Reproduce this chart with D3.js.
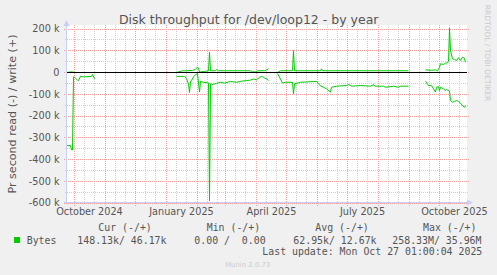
<!DOCTYPE html>
<html><head><meta charset="utf-8">
<script src="https://cdn.jsdelivr.net/npm/d3@7"></script>
<style>html,body{margin:0;padding:0;background:#f0f0f0;}svg{display:block}</style>
</head><body>
<svg id="chart" width="497" height="275"></svg>
<script>
// ---- data ----
const titleText = "Disk throughput for /dev/loop12 - by year";
const yAxisLabel = "Pr second read (-) / write (+)";
const yTickValues = [200, 100, 0, -100, -200, -300, -400, -500, -600]; // k
const yTickLabels = ["200 k", "100 k", "0", "-100 k", "-200 k", "-300 k", "-400 k", "-500 k", "-600 k"];
const xLabelMonths = ["2024-10-01", "2025-01-01", "2025-04-01", "2025-07-01", "2025-10-01"];
const xLabels = ["October 2024", "January 2025", "April 2025", "July 2025", "October 2025"];
// days since 2024-10-01 ; values in k bytes/s (read shown negative), null = gap
const readDays = [-8,-4,-3,-2,-1,0,1,3,4,6,9,17,18,20,21,
  102,110,112,114,115,116,117,119,121,123,125,126,129,134,135,136,138,142,146,150,156,162,167,172,176,179,182,185,188,190,192,194,195,
  203,206,208,211,218,219,220,226,242,246,249,252,256,257,262,272,274,277,286,296,299,301,309,311,319,324,326,334,335,
  351,354,357,359,361,362,364,365,366,369,371,372,375,376,378,380,382,384,386,388,390,391];
const readValues = [-336,-336,-356,-356,-20,-22,-26,-35,-37,-18,-20,-18,-9,-29,null,
  -18,-18,-29,-52,-92,-40,-38,-20,-10,-5,-90,-41,-45,-48,-590,-52,-55,-50,-45,-49,-41,-45,-40,-37,-35,-30,-34,-22,-18,-25,-29,-37,null,
  -5,-30,-49,-45,-45,-98,-52,-45,-41,-62,-68,-75,-90,-68,-63,-60,-55,-63,-60,-63,-56,-63,-63,-68,-63,-68,-63,-63,null,
  -40,-60,-60,-75,-90,-68,-65,-83,-68,-75,-83,-78,-86,-129,-137,-133,-129,-133,-141,-152,-160,-152];
const writeDays = [-8,-3,-2,-1,20,21,
  102,108,112,118,121,123,124,125,130,134,135,136,141,142,144,170,176,178,181,183,190,192,194,195,
  203,206,218,219,220,246,247,248,334,335,
  351,357,361,363,365,366,369,371,373,374,375,376,378,380,382,384,386,388,389,390,391];
const writeValues = [0,3,3,0,0,null,
  0,8,8,9,15,25,20,2,5,8,93,8,8,14,8,8,8,3,3,8,8,12,17,null,
  0,8,8,101,8,8,17,8,8,null,
  12,10,12,8,24,40,37,43,45,50,205,100,63,60,55,68,55,70,70,62,47];
const seriesName = "Bytes";
const legendHeaders = ["Cur (-/+)", "Min (-/+)", "Avg (-/+)", "Max (-/+)"];
const legendValues = ["148.13k/ 46.17k", "0.00 /  0.00", "62.95k/ 12.67k", "258.33M/ 35.96M"];
const lastUpdate = "Last update: Mon Oct 27 01:00:04 2025";
const sideText = "RRDTOOL / TOBI OETIKER";
const footer = "Munin 2.0.73";

// ---- drawing ----
const svg = d3.select("#chart");
const green = "#00cc00";
const base = Date.UTC(2024, 9, 1);
const dayDate = d => new Date(base + d * 86400000);
const x = d3.scaleUtc().domain([new Date(Date.UTC(2024, 8, 23, 12)), new Date(Date.UTC(2025, 9, 28, 12))]).range([67, 467]);
const y = d3.scaleLinear().domain([-600, 200]).range([203, 29]);
const snap = v => Math.round(v - 0.5) + 0.5;

svg.append("rect").attr("width", 497).attr("height", 275).attr("fill", "#f0f0f0");
svg.append("rect").attr("x", 67).attr("y", 25).attr("width", 400).attr("height", 178).attr("fill", "#ffffff");

const grid = svg.append("g");
// minor vertical: 11th and 21st of each month
const months = d3.utcMonth.range(new Date(Date.UTC(2024, 8, 1)), new Date(Date.UTC(2025, 10, 1)));
const minorV = [];
months.forEach(m => { [10, 20].forEach(o => { const t = d3.utcDay.offset(m, o); if (x(t) > 67 && x(t) < 467) minorV.push(t); }); });
grid.selectAll(".mv").data(minorV).join("line")
  .attr("x1", d => snap(x(d))).attr("x2", d => snap(x(d))).attr("y1", 25).attr("y2", 205)
  .attr("stroke", "#cfcfcf").attr("stroke-dasharray", "1,1");
// minor horizontal every 50k
const minorH = d3.range(-550, 200, 100);
grid.selectAll(".mh").data(minorH).join("line")
  .attr("x1", 65).attr("x2", 469).attr("y1", d => snap(y(d))).attr("y2", d => snap(y(d)))
  .attr("stroke", "#cfcfcf").attr("stroke-dasharray", "1,1");
// major vertical: month starts
const majorV = months.filter(m => x(m) > 67 && x(m) < 467);
grid.selectAll(".Mv").data(majorV).join("line")
  .attr("x1", d => snap(x(d))).attr("x2", d => snap(x(d))).attr("y1", 25).attr("y2", 206)
  .attr("stroke", "#f2a0a0").attr("stroke-dasharray", "1,1");
grid.selectAll(".Mh").data(yTickValues).join("line")
  .attr("x1", 64).attr("x2", 470).attr("y1", d => snap(y(d))).attr("y2", d => snap(y(d)))
  .attr("stroke", "#f2a0a0").attr("stroke-dasharray", "1,1");

// data lines
const line = d3.line().defined(d => d[1] !== null).x(d => x(dayDate(d[0]))).y(d => y(d[1]));
const readPts = readDays.map((d, i) => [d, readValues[i]]);
const writePts = writeDays.map((d, i) => [d, writeValues[i]]);
svg.append("path").attr("d", line(readPts)).attr("fill", "none").attr("stroke", green).attr("stroke-width", 1);
svg.append("path").attr("d", line(writePts)).attr("fill", "none").attr("stroke", green).attr("stroke-width", 1);

// zero line
svg.append("line").attr("x1", 67).attr("x2", 467).attr("y1", y(0)).attr("y2", y(0)).attr("stroke", "#000").attr("stroke-width", 1);

// axes
const axisC = "#c8d0f8";
svg.append("line").attr("x1", 66.5).attr("x2", 66.5).attr("y1", 203).attr("y2", 24).attr("stroke", axisC);
svg.append("line").attr("x1", 64).attr("x2", 470).attr("y1", 202.5).attr("y2", 202.5).attr("stroke", axisC);
svg.append("path").attr("d", "M63.5,26L66.5,20L69.5,26Z").attr("fill", axisC);
svg.append("path").attr("d", "M467,199.5L473,202.5L467,205.5Z").attr("fill", axisC);

// texts
const font = "'DejaVu Sans', sans-serif";
const mono = "'DejaVu Sans Mono', monospace";
const tc = "#555";
svg.append("text").attr("x", 248.7).attr("y", 24).attr("text-anchor", "middle")
  .attr("font-family", font).attr("font-size", 12.5).attr("fill", tc).text(titleText);
svg.append("text").attr("transform", "translate(15.5,114) rotate(-90)").attr("text-anchor", "middle")
  .attr("font-family", font).attr("font-size", 11.1).attr("fill", tc).text(yAxisLabel);
svg.selectAll(".yt").data(yTickValues).join("text")
  .attr("x", 59.5).attr("y", d => y(d) + 3.4).attr("text-anchor", "end")
  .attr("font-family", font).attr("font-size", 9.7).attr("fill", tc)
  .text((d, i) => yTickLabels[i]);
svg.selectAll(".xt").data(xLabelMonths).join("text")
  .attr("x", d => x(d3.utcDay.offset(new Date(d + "T00:00:00Z"), 15))).attr("y", 215).attr("text-anchor", "middle")
  .attr("font-family", font).attr("font-size", 9.7).attr("fill", tc)
  .text((d, i) => xLabels[i]);
svg.append("text").attr("transform", "translate(485,53) rotate(90)").attr("text-anchor", "middle")
  .attr("font-family", font).attr("font-size", 7.5).attr("fill", "#c8c8c8").text(sideText);

// legend
const hdrX = [98.3, 206.7, 315.3, 423];
const valX = [77.3, 194.3, 293.3, 392.3];
svg.selectAll(".lh").data(legendHeaders).join("text")
  .attr("x", (d, i) => hdrX[i]).attr("y", 231).attr("xml:space", "preserve")
  .attr("font-family", mono).attr("font-size", 9.9).attr("fill", tc).text(d => d);
svg.append("rect").attr("x", 14).attr("y", 237).attr("width", 6).attr("height", 6).attr("fill", green);
svg.append("text").attr("x", 26.7).attr("y", 243.5).attr("font-family", mono).attr("font-size", 9.9).attr("fill", tc).text(seriesName);
svg.selectAll(".lv").data(legendValues).join("text")
  .attr("x", (d, i) => valX[i]).attr("y", 243.5).style("white-space", "pre")
  .attr("font-family", mono).attr("font-size", 9.9).attr("fill", tc).text(d => d);
svg.append("text").attr("x", 482.3).attr("y", 254.5).attr("text-anchor", "end")
  .attr("font-family", mono).attr("font-size", 9.9).attr("fill", tc).text(lastUpdate);
svg.append("text").attr("x", 247.7).attr("y", 267).attr("text-anchor", "middle")
  .attr("font-family", font).attr("font-size", 6.9).attr("fill", "#cccccc").text(footer);
</script>
</body></html>
